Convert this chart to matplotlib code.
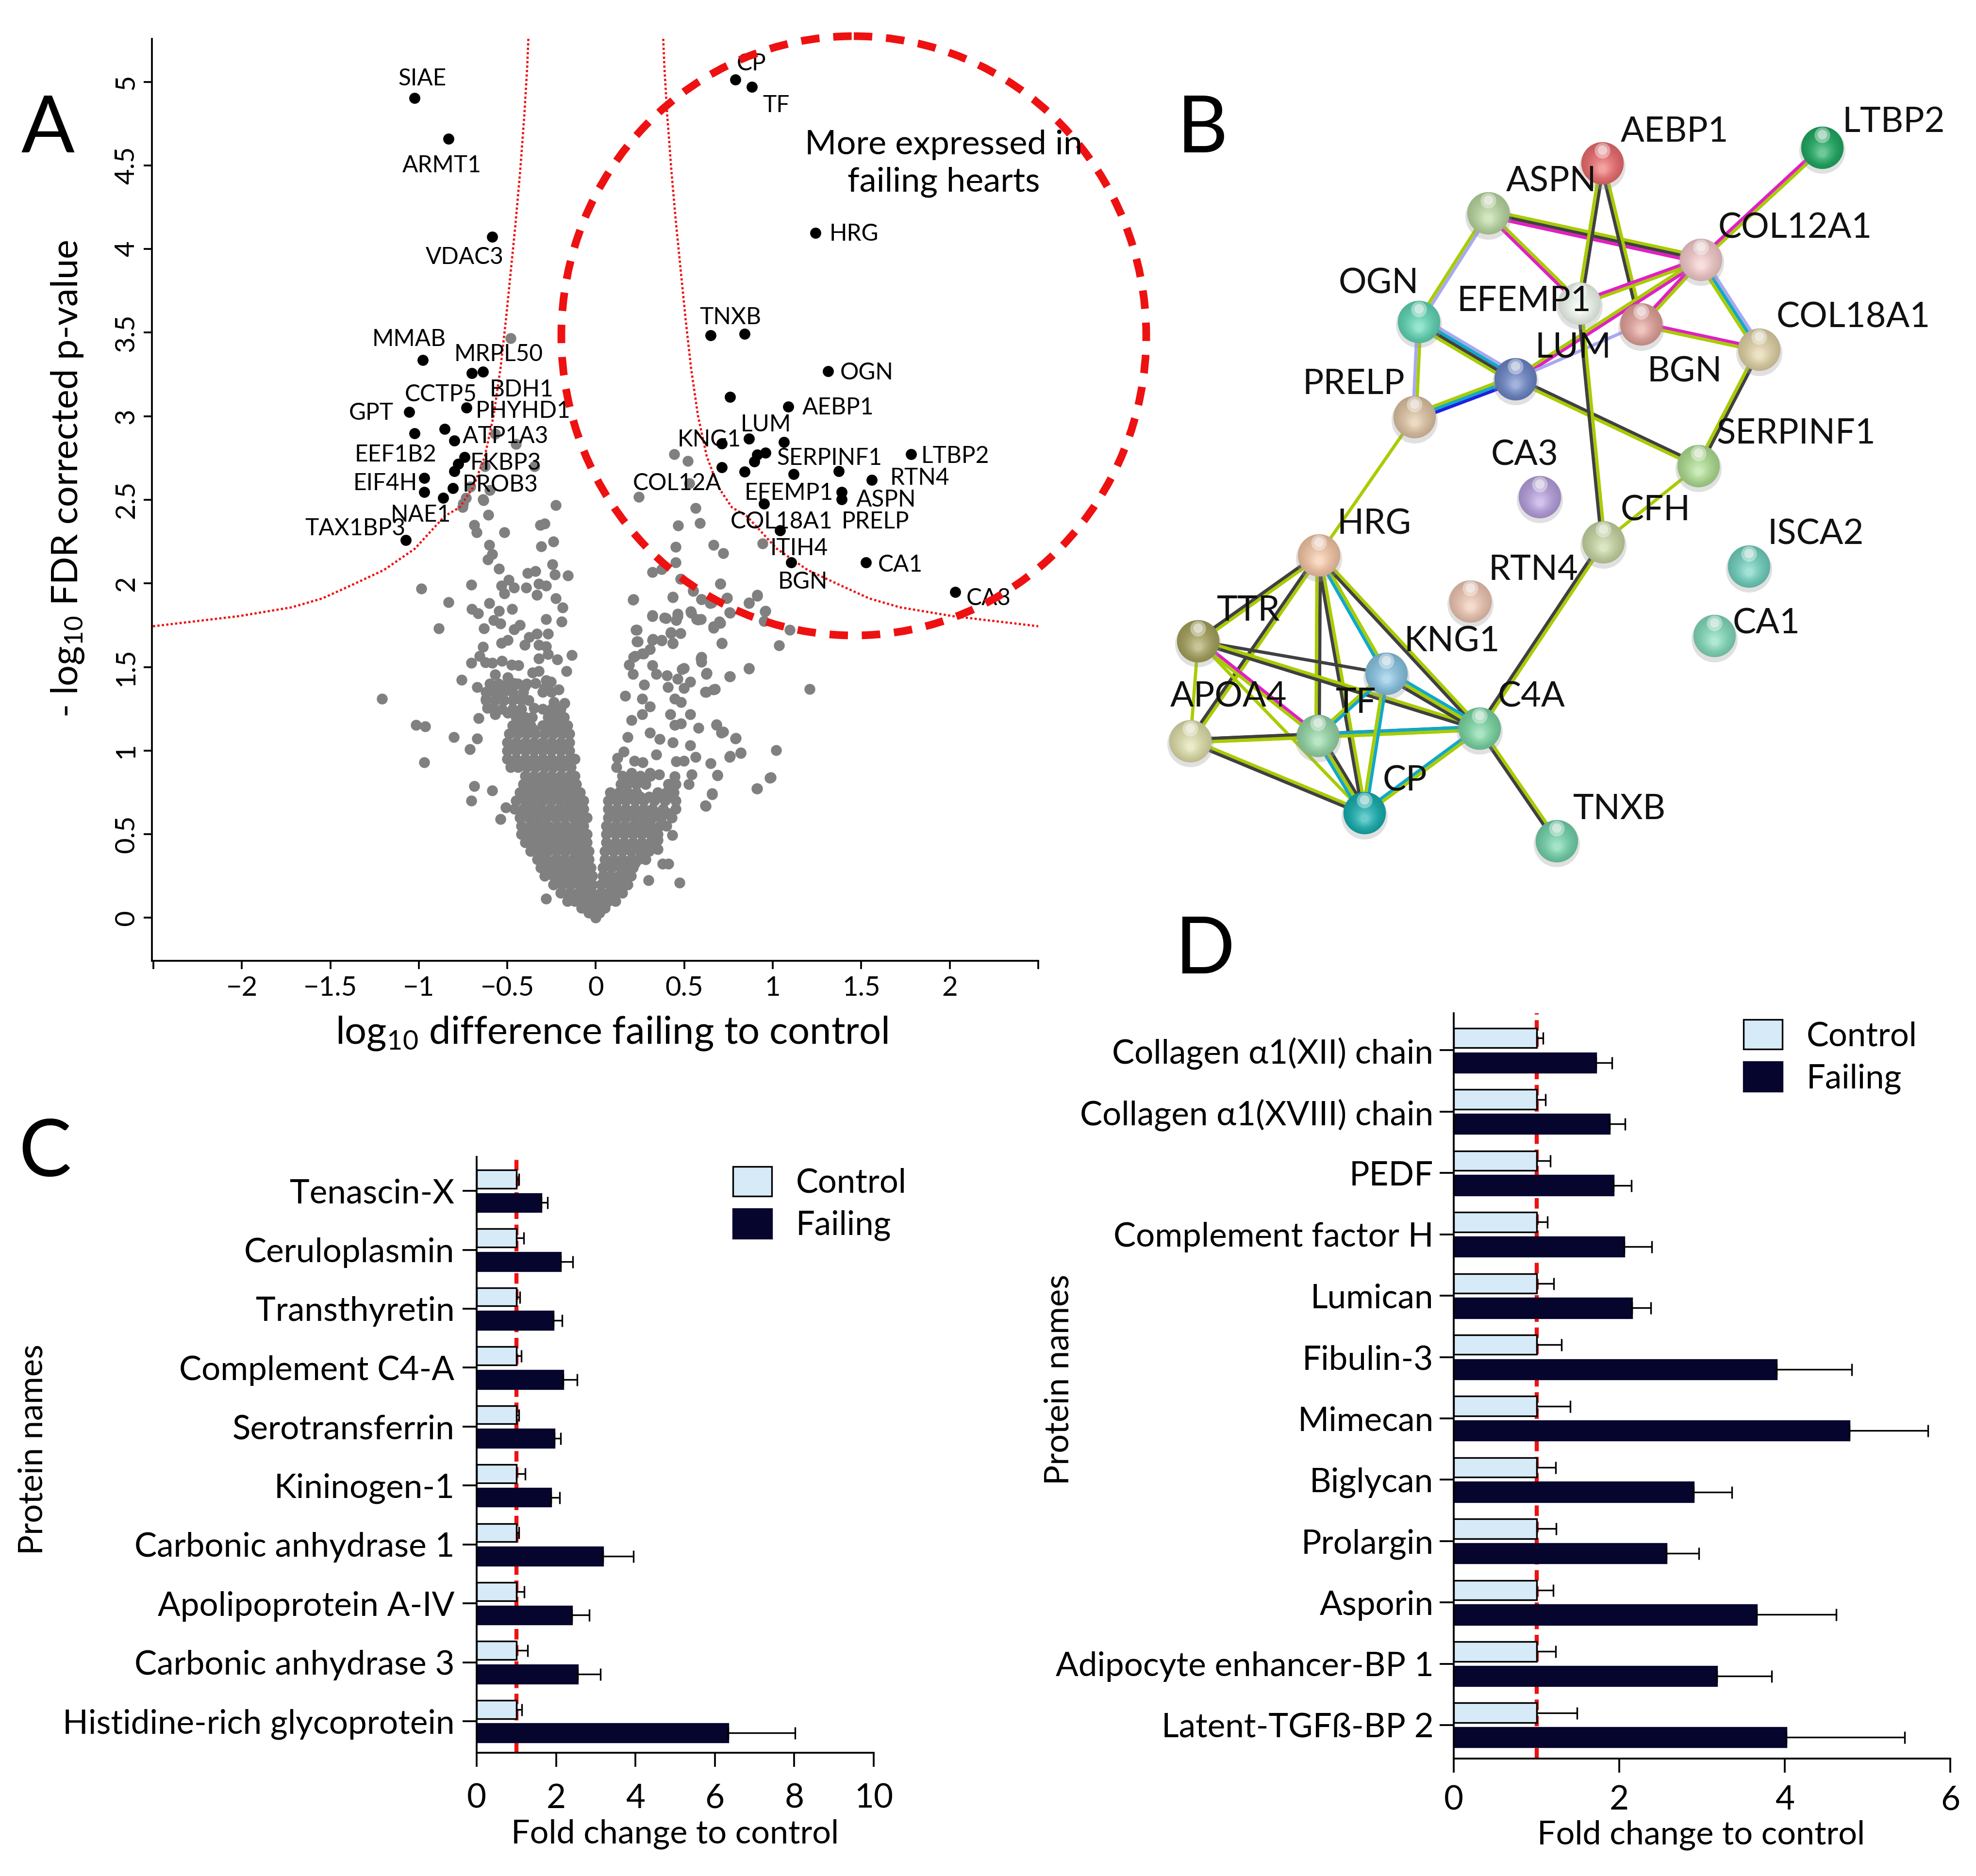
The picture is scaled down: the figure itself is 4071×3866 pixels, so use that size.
import numpy as np
import matplotlib
matplotlib.use('Agg')
import matplotlib.pyplot as plt
from matplotlib.colors import to_rgb
from matplotlib.patches import Ellipse, Patch

plt.rcParams['font.family'] = ['Lato', 'DejaVu Sans']
plt.rcParams['mathtext.fontset'] = 'custom'
plt.rcParams['mathtext.rm'] = 'Lato'
plt.rcParams['mathtext.default'] = 'rm'
plt.rcParams['axes.linewidth'] = 0.9

W, H = 4071, 3866

# ---------- panel A data ----------
# sparse grey proteins
grey_left = [
    (-1.208, 1.311), (-1.017, 1.152), (-.963, 1.144), (-.97, .93), (-.802, 1.08), (-.671, 1.072),
    (-.711, 1.009), (-.663, 1.193), (-.687, .789), (-.586, .763), (-.703, .70), (-.51, .659),
    (-.54, .589), (-.28, .115), (-.757, 1.422), (-.703, 1.524), (-.671, 1.38), (-.886, 1.73),
    (-.832, 1.889), (-.986, 1.969), (-.703, 1.991), (-.701, 1.846), (-.664, 1.822), (-.633, 1.731),
    (-.601, 1.881), (-.547, 1.835), (-.577, 1.781), (-.538, 1.759), (-.472, 1.848), (-.638, 1.62),
    (-.656, 1.565), (-.624, 1.528), (-.586, 1.526), (-.53, 1.537), (-.477, 1.513), (-.437, 1.509),
    (-.568, 1.454), (-.498, 1.439), (-.533, 1.643), (-.498, 1.661), (-.463, 1.726), (-.428, 1.75),
    (-.402, 1.633), (-.376, 1.68), (-.332, 1.698), (-.271, 1.698), (-.323, 1.633), (-.28, 1.624),
    (-.271, 1.578), (-.323, 1.55), (-.218, 1.546), (-.135, 1.572), (-.166, 1.476), (-.358, 1.467),
    (-.323, 1.476), (-.28, 1.42), (-.253, 1.411), (-.288, 1.374), (-.21, 1.365), (-.341, 1.402),
    (-.402, 1.383), (-.463, 1.402), (-.533, 1.383), (-.603, 1.356), (-.559, 1.328), (-.621, 1.309),
    (-.428, 1.309), (-.236, 1.291), (-.178, 1.285), (-.612, 1.254), (-.568, 1.217), (-.498, 1.226),
    (-.35, 1.254), (-.226, 2.467), (-.288, 2.359), (-.315, 2.35), (-.241, 2.25), (-.309, 2.222),
    (-.517, 2.307), (-.608, 2.411), (-.687, 2.35), (-.673, 2.305), (-.603, 2.231), (-.586, 2.176),
    (-.61, 2.143), (-.547, 2.087), (-.245, 2.115), (-.233, 2.054), (-.157, 2.046), (-.385, 2.063),
    (-.341, 2.072), (-.493, 2.022), (-.533, 1.985), (-.516, 1.939), (-.463, 1.976), (-.393, 1.976),
    (-.323, 1.998), (-.28, 1.985), (-.332, 1.93), (-.227, 1.911), (-.187, 1.856), (-.28, 1.785),
    (-.192, 1.772), (-.48, 3.465), (-.57, 2.895), (-.45, 2.834), (-.627, 2.7), (-.346, 2.7),
    (-.71, 2.577), (-.6, 2.557), (-.75, 2.476), (-.635, 2.496), (-.734, 2.513), (-.752, 2.457),
    (-.638, 2.504),
]
grey_right = [
    (.442, 2.773), (.519, 2.732), (.242, 2.516), (.527, 2.598), (.565, 2.451), (.588, 2.362),
    (.465, 2.345), (.45, 2.219), (.45, 2.125), (.665, 2.231), (.719, 2.182), (.319, 2.068),
    (.373, 2.085), (.48, 2.028), (.704, 1.999), (.942, 2.239), (.912, 1.926), (.742, 1.914),
    (.55, 1.954), (.654, 1.885), (.596, 1.906), (.435, 1.918), (.212, 1.906), (.319, 1.804),
    (.396, 1.792), (.462, 1.804), (.538, 1.824), (.577, 1.783), (.665, 1.743), (.704, 1.763),
    (.758, 1.824), (.865, 1.885), (.958, 1.836), (.95, 1.775), (1.096, 1.722), (1.035, 1.629),
    (.712, 1.641), (.48, 1.702), (.231, 1.722), (.231, 1.653), (.423, 1.702), (.319, 1.661),
    (.373, 1.661), (.435, 1.641), (.269, 1.58), (.212, 1.559), (1.208, 1.368), (.865, 1.49),
    (.758, 1.445), (.596, 1.559), (.596, 1.531), (.488, 1.486), (.623, 1.458), (.673, 1.368),
    (.619, 1.352), (1.019, 1.002), (.988, .839), (.912, .774), (.819, .989), (.788, 1.071),
    (.758, .969), (.719, 1.112), (.681, 1.152), (.688, .855), (.658, .745), (.619, .672),
    (.21, 1.902), (.227, 1.722), (.236, 1.652), (.32, 1.809), (.388, 1.794), (.463, 1.819),
    (.455, 1.781), (.434, 1.92), (.537, 1.833), (.568, 1.787), (.594, 1.787), (.664, 1.735),
    (.699, 1.772), (.757, 1.828), (.703, 1.998), (.551, 1.957), (.598, 1.906), (.647, 1.883),
    (.74, 1.911), (.865, 1.883), (.913, 1.93), (.956, 1.833), (.712, 1.643), (.425, 1.707),
    (.435, 1.643), (.372, 1.657), (.323, 1.667), (.306, 1.606), (.262, 1.581), (.222, 1.565),
    (.189, 1.513), (.21, 1.457), (.32, 1.509), (.341, 1.457), (.594, 1.55), (.498, 1.494),
    (.628, 1.463), (.757, 1.444), (.865, 1.494), (.664, 1.365), (.624, 1.35), (.402, 1.448),
    (.463, 1.43), (.533, 1.411), (.498, 1.374), (.407, 1.381), (.274, 1.393), (.262, 1.309),
    (.166, 1.328), (.306, 1.263), (.262, 1.217), (.203, 1.183), (.446, 1.309), (.481, 1.291),
    (.42, 1.217), (.446, 1.152), (.481, 1.161), (.533, 1.217), (.58, 1.137), (.682, 1.156),
    (.708, 1.106), (.79, 1.074), (.306, 1.106), (.362, 1.069), (.435, 1.05), (.533, 1.031),
    (.18, 1.081), (.157, .994), (.122, .957), (.117, .902), (.219, .939), (.266, .93),
    (.341, .976), (.455, .935), (.498, .939), (.565, .961), (.65, .924), (.757, .961),
    (.818, .985), (.687, .852), (.542, .856), (.524, .8), (.411, .8), (.446, .846),
    (.306, .865), (.358, .856), (.201, .865), (.656, .739), (.621, .67), (.909, .772),
    (.984, .837), (.297, .226), (.472, .211), (.376, .322), (.411, .322), (.432, .494),
    (.35, .467), (.35, .411),
]
# the solid bottom of the V, read row by row: (y, [x, x, ...])
dense_rows = [
    (.0, [0]),
    (.03, [-.04, -.01, .02]),
    (.06, [-.08, -.05, -.02, .02, .05]),
    (.1, [-.16, -.12, -.08, -.04, -.01, .03, .07, .11]),
    (.15, [-.2, -.15, -.1, -.06, -.02, .03, .07, .11, .15]),
    (.2, [-.24, -.19, -.14, -.09, -.05, -.02, .03, .08, .13, .18]),
    (.25, [-.29, -.24, -.19, -.14, -.09, -.05, -.02, .04, .08, .13, .18, .2]),
    (.3, [-.31, -.26, -.21, -.16, -.11, -.07, -.03, .04, .09, .14, .18, .21]),
    (.35, [-.33, -.28, -.23, -.18, -.13, -.08, -.04, .05, .1, .15, .2, .24, .28]),
    (.4, [-.37, -.32, -.27, -.22, -.17, -.12, -.08, -.04, .05, .1, .15, .2, .25, .3]),
    (.45, [-.4, -.35, -.3, -.25, -.2, -.15, -.1, -.05, .06, .11, .16, .21, .26, .31]),
    (.5, [-.42, -.37, -.32, -.27, -.22, -.17, -.12, -.07, -.05, .06, .11, .16, .21, .26, .31, .35]),
    (.55, [-.42, -.37, -.32, -.27, -.22, -.17, -.12, -.07, .06, .11, .16, .21, .26, .31, .36, .4]),
    (.6, [-.43, -.38, -.33, -.28, -.23, -.18, -.13, -.08, -.05, .07, .12, .17, .22, .27, .32, .37, .43]),
    (.65, [-.46, -.41, -.36, -.31, -.26, -.21, -.16, -.11, -.07, .07, .12, .17, .22, .27, .32, .38, .45]),
    (.7, [-.45, -.4, -.35, -.3, -.25, -.2, -.15, -.1, -.07, .07, .12, .17, .22, .27, .33, .39, .45]),
    (.75, [-.43, -.38, -.33, -.28, -.23, -.18, -.13, -.09, .08, .13, .18, .23, .35, .4, .44]),
    (.8, [-.41, -.36, -.31, -.26, -.21, -.16, -.11, .14, .18, .23, .28, .41, .45]),
    (.85, [-.4, -.35, -.3, -.25, -.2, -.15, -.12, .15, .2, .25, .31]),
    (.9, [-.48, -.44, -.39, -.34, -.29, -.24, -.19, -.14]),
    (.95, [-.5, -.45, -.4, -.35, -.3, -.25, -.2, -.15, -.12]),
    (1.0, [-.5, -.45, -.4, -.35, -.3, -.25, -.2, -.15]),
    (1.05, [-.5, -.45, -.4, -.35, -.3, -.25, -.2, -.15]),
    (1.1, [-.49, -.44, -.39, -.34, -.29, -.24, -.19, -.15]),
    (1.15, [-.47, -.42, -.37, -.3, -.25, -.2, -.16]),
    (1.2, [-.45, -.4, -.36, -.27, -.22, -.18]),
    # looser patches above the solid part
    (1.25, [-.58, -.53, -.47, -.42, -.3, -.25, -.2]),
    (1.3, [-.62, -.57, -.52, -.47, -.42, -.38]),
    (1.35, [-.62, -.57, -.52, -.47, -.41, -.3, -.25]),
    (1.4, [-.6, -.55, -.5, -.44, -.39]),
    # in-between rows that close the small gaps
    (.125, [-.14, -.1, -.03, .05, .09]),
    (.225, [-.21, -.17, -.12, -.07, .06, .11, .16]),
    (.325, [-.29, -.24, -.19, -.14, -.09, .07, .12, .17, .22]),
    (.425, [-.35, -.3, -.25, -.2, -.15, -.1, .08, .13, .18, .23, .28]),
    (.525, [-.4, -.35, -.3, -.25, -.2, -.15, -.1, .09, .14, .19, .24, .29, .34]),
    (.625, [-.41, -.36, -.31, -.26, -.21, -.16, -.11, .1, .15, .2, .25, .3, .35, .41]),
    (.725, [-.42, -.37, -.32, -.27, -.22, -.17, -.12, .1, .15, .2, .25, .3, .37, .42]),
    (.825, [-.38, -.33, -.28, -.23, -.18, -.14, .17, .22, .27]),
    (.925, [-.47, -.42, -.37, -.32, -.27, -.22, -.17]),
    (1.025, [-.47, -.42, -.37, -.32, -.27, -.22, -.17]),
    (1.125, [-.45, -.4, -.35, -.28, -.22, -.17]),
]
black_x = [-1.023, -.831, -.585, -.977, -.7, -.638, -.731, -1.054, -1.023, -.854, -.8, -.742, -.777, -.8,
           -.969, -.969, -.808, -.862, -1.073, .788, .881, 1.242, .65, .842, 1.312, .758, 1.088, .865,
           .712, 1.062, .958, .912, .896, .712, .842, 1.119, 1.373, 1.781, 1.558, 1.388, 1.388, .95,
           1.042, 1.104, 1.527, 2.031]
black_y = [4.902, 4.658, 4.072, 3.335, 3.257, 3.265, 3.05, 3.025, 2.899, 2.923, 2.854, 2.756, 2.716, 2.671,
           2.63, 2.545, 2.569, 2.512, 2.26, 5.012, 4.971, 4.096, 3.485, 3.493, 3.27, 3.115, 3.058, 2.866,
           2.838, 2.846, 2.781, 2.769, 2.728, 2.695, 2.667, 2.655, 2.671, 2.773, 2.618, 2.545, 2.504,
           2.476, 2.317, 2.125, 2.125, 1.95]
# protein label, centre of text in data units
volcano_labels = [
    ('SIAE', -.98, 5.02), ('ARMT1', -.87, 4.5), ('VDAC3', -.74, 3.95), ('MMAB', -1.055, 3.46),
    ('MRPL50', -.55, 3.37), ('BDH1', -.42, 3.16), ('CCTP5', -.875, 3.13), ('PHYHD1', -.41, 3.03),
    ('GPT', -1.27, 3.02), ('ATP1A3', -.51, 2.88), ('FKBP3', -.51, 2.72), ('EEF1B2', -1.13, 2.77),
    ('EIF4H', -1.19, 2.6), ('PROB3', -.54, 2.59), ('NAE1', -.99, 2.41), ('TAX1BP3', -1.36, 2.33),
    ('CP', .88, 5.11), ('TF', 1.02, 4.86), ('HRG', 1.46, 4.09), ('TNXB', .76, 3.59), ('OGN', 1.53, 3.26),
    ('AEBP1', 1.37, 3.05), ('LUM', .96, 2.95), ('KNG1', .64, 2.86), ('SERPINF1', 1.32, 2.75),
    ('COL12A', .46, 2.6), ('LTBP2', 2.03, 2.76), ('RTN4', 1.83, 2.63), ('ASPN', 1.64, 2.5),
    ('PRELP', 1.58, 2.37), ('EFEMP1', 1.09, 2.54), ('COL18A1', 1.05, 2.37), ('ITIH4', 1.15, 2.21),
    ('BGN', 1.17, 2.01), ('CA1', 1.72, 2.11), ('CA3', 2.22, 1.91),
]
curve_x = [-.381, -.388, -.404, -.427, -.454, -.481, -.508, -.538, -.577, -.627, -.692, -.769, -.854,
           -1.023, -1.196, -1.369, -1.546, -1.719, -2.019, -2.508]
curve_y = [5.257, 5.08, 4.796, 4.47, 4.145, 3.86, 3.575, 3.29, 3.005, 2.76, 2.577, 2.455, 2.402,
           2.207, 2.081, 1.995, 1.91, 1.857, 1.804, 1.743]

# ---------- panel B data (positions in a 1568 x 1568 frame) ----------
node_names = ['AEBP1', 'LTBP2', 'ASPN', 'COL12A1', 'OGN', 'EFEMP1', 'BGN', 'COL18A1', 'LUM', 'PRELP',
              'SERPINF1', 'CA3', 'CFH', 'HRG', 'ISCA2', 'RTN4', 'CA1', 'TTR', 'KNG1', 'C4A', 'APOA4',
              'TF', 'CP', 'TNXB']
node_x = [886, 1287, 678, 1066, 552, 845, 957, 1172, 728, 544, 1062, 772, 888, 369, 1154, 645, 1091,
          149, 492, 662, 135, 367, 452, 803]
node_y = [172, 142, 267, 355, 473, 438, 478, 526, 582, 654, 747, 806, 892, 917, 938, 1004, 1070,
          1080, 1142, 1246, 1270, 1260, 1407, 1460]
node_colors = ['#ee6e70', '#20ab62', '#bcd9a2', '#f6cccc', '#62d8b6', '#f2fbf2', '#e4a49c', '#e2d4a8',
               '#6e88c8', '#e0c5a4', '#b0e094', '#b8a2e0', '#c8d8a4', '#f6c8a8', '#72d2c0', '#f0c8b4',
               '#84dcbc', '#a8a460', '#8ac6e4', '#7cd8a4', '#e0e0ac', '#96d8a8', '#18b0b0', '#74d4ac']
node_label_x = [1018, 1418, 793, 1238, 478, 743, 1036, 1344, 833, 433, 1240, 745, 983, 470, 1275, 760,
                1186, 241, 612, 757, 205, 437, 526, 918]
node_label_y = [112, 94, 207, 295, 400, 434, 568, 465, 522, 592, 686, 727, 832, 858, 877, 945, 1047,
                1022, 1081, 1186, 1186, 1198, 1346, 1400]
GR, DK, MG, CY, LV, BL = '#a8cc00', '#404040', '#e020c0', '#10a8c8', '#a8a8f0', '#2020e0'
edges = [
    ('LTBP2', 'COL12A1', [GR, MG]), ('ASPN', 'COL12A1', [GR, DK, MG]), ('ASPN', 'OGN', [LV, GR]),
    ('ASPN', 'EFEMP1', [GR, MG]), ('AEBP1', 'EFEMP1', [DK, GR]), ('AEBP1', 'BGN', [GR, DK]),
    ('COL12A1', 'EFEMP1', [GR, MG]), ('COL12A1', 'BGN', [GR, MG]), ('COL12A1', 'LUM', [MG, GR]),
    ('COL12A1', 'COL18A1', [LV, CY, GR]), ('BGN', 'COL18A1', [MG, GR]), ('BGN', 'LUM', [LV]),
    ('OGN', 'LUM', [LV, CY, DK, GR]), ('OGN', 'PRELP', [GR, LV]), ('PRELP', 'LUM', [GR, CY, BL]),
    ('LUM', 'SERPINF1', [DK, GR]), ('EFEMP1', 'CFH', [GR, DK]), ('COL18A1', 'SERPINF1', [DK, GR]),
    ('SERPINF1', 'CFH', [GR]), ('PRELP', 'HRG', [GR]), ('CFH', 'C4A', [GR, DK]), ('HRG', 'TTR', [GR, DK]),
    ('HRG', 'APOA4', [GR, DK]), ('HRG', 'TF', [DK, GR]), ('HRG', 'CP', [GR, DK]), ('HRG', 'KNG1', [GR, CY]),
    ('HRG', 'C4A', [GR, DK]), ('TTR', 'KNG1', [DK]), ('TTR', 'C4A', [GR, DK]), ('TTR', 'TF', [MG, GR]),
    ('TTR', 'CP', [GR]), ('TTR', 'APOA4', [GR]), ('APOA4', 'TF', [DK, GR]), ('APOA4', 'C4A', [DK, GR]),
    ('APOA4', 'CP', [GR, DK]), ('TF', 'C4A', [CY, GR]), ('TF', 'CP', [DK, GR, CY]), ('TF', 'KNG1', [GR, CY]),
    ('KNG1', 'C4A', [CY, GR, DK]), ('KNG1', 'CP', [CY, GR]), ('CP', 'C4A', [CY, GR]), ('C4A', 'TNXB', [GR, DK]),
]

# ---------- panels C and D data ----------
c_names = ['Tenascin-X', 'Ceruloplasmin', 'Transthyretin', 'Complement C4-A', 'Serotransferrin',
           'Kininogen-1', 'Carbonic anhydrase 1', 'Apolipoprotein A-IV', 'Carbonic anhydrase 3',
           'Histidine-rich glycoprotein']
c_failing = [1.62, 2.12, 1.93, 2.17, 1.95, 1.87, 3.18, 2.40, 2.54, 6.33]
c_failing_top = [1.78, 2.42, 2.15, 2.53, 2.11, 2.09, 3.95, 2.84, 3.12, 8.02]
c_control_top = [1.06, 1.19, 1.09, 1.12, 1.06, 1.22, 1.06, 1.20, 1.28, 1.14]

d_names = ['Collagen α1(XII) chain', 'Collagen α1(XVIII) chain', 'PEDF', 'Complement factor H', 'Lumican',
           'Fibulin-3', 'Mimecan', 'Biglycan', 'Prolargin', 'Asporin', 'Adipocyte enhancer-BP 1',
           'Latent-TGFß-BP 2']
d_failing = [1.717, 1.88, 1.93, 2.06, 2.15, 3.90, 4.78, 2.90, 2.57, 3.66, 3.18, 4.02]
d_failing_top = [1.91, 2.07, 2.145, 2.395, 2.38, 4.81, 5.73, 3.36, 2.96, 4.62, 3.84, 5.45]
d_control_top = [1.08, 1.11, 1.17, 1.13, 1.21, 1.30, 1.41, 1.23, 1.24, 1.20, 1.23, 1.49]


def axes_px(fig, left, top, right, bottom, **kw):
    return fig.add_axes([left / W, 1 - bottom / H, (right - left) / W, (bottom - top) / H], **kw)


def bar_panel(ax, names, failing, failing_top, control_top, xmax, xstep, ylim, off, bar_h, leg_anchor, ypad, xpad):
    ypos = np.arange(len(names))
    control = np.ones(len(names))
    ax.axvline(1, color='#ee1111', lw=2.0, ls=(0, (2.6, 1.4)), zorder=1)
    ax.barh(ypos - off, control, height=bar_h, color='#d6eaf8', edgecolor='black', lw=0.8, zorder=2)
    ax.barh(ypos + off, failing, height=bar_h, color='#05052e', edgecolor='#05052e', lw=0.8, zorder=2)
    ax.errorbar(control, ypos - off, xerr=[np.zeros(len(names)), np.array(control_top) - 1], fmt='none',
                ecolor='black', elinewidth=0.8, capsize=3, capthick=0.8, zorder=3)
    ax.errorbar(failing, ypos + off, xerr=[np.zeros(len(names)), np.array(failing_top) - np.array(failing)],
                fmt='none', ecolor='black', elinewidth=0.8, capsize=3, capthick=0.8, zorder=3)
    ax.set_xlim(0, xmax)
    ax.set_ylim(*ylim)
    ax.set_xticks(np.arange(0, xmax + 1, xstep))
    ax.set_yticks(ypos)
    ax.set_yticklabels(names)
    ax.tick_params(axis='y', length=7, width=0.9, labelsize=16.6, pad=ypad)
    ax.tick_params(axis='x', length=7, width=0.9, labelsize=16.6, pad=xpad)
    ax.spines['top'].set_visible(False)
    ax.spines['right'].set_visible(False)
    handles = [Patch(facecolor='#d6eaf8', edgecolor='black', lw=0.8, label='Control'),
               Patch(facecolor='#05052e', edgecolor='#05052e', lw=0.8, label='Failing')]
    ax.legend(handles=handles, loc='upper left', bbox_to_anchor=leg_anchor, frameon=False, fontsize=16.5,
              handlelength=1.17, handleheight=1.0, handletextpad=0.72, labelspacing=0.3, borderpad=0)


fig = plt.figure(figsize=(W / 300, H / 300), dpi=300, facecolor='white')

# ---------- A: volcano ----------
ax = axes_px(fig, 313, 80, 2139, 1980)
grey_pts = list(grey_left) + list(grey_right)
for row_y, row_xs in dense_rows:
    grey_pts += [(x, row_y) for x in row_xs]
gx, gy = zip(*grey_pts)
ax.scatter(gx, gy, s=29, color='#808080', lw=0, zorder=2)
ax.plot(curve_x, curve_y, color='#ee1111', lw=1.1, ls=(0, (1, 1)), zorder=3)
ax.plot(-np.array(curve_x), curve_y, color='#ee1111', lw=1.1, ls=(0, (1, 1)), zorder=3)
ax.scatter(black_x, black_y, s=30, color='black', lw=0, zorder=4)
for name, lx, ly in volcano_labels:
    ax.text(lx, ly, name, fontsize=11.5, ha='center', va='center', zorder=6)
ax.set_xlim(-2.508, 2.5)
ax.set_ylim(-.257, 5.257)
ax.set_xticks(np.arange(-2.5, 2.51, .5))
ax.set_xticklabels(['', '\u22122', '\u22121.5', '\u22121', '\u22120.5', '0', '0.5', '1', '1.5', '2', ''])
ax.set_yticks(np.arange(0, 5.01, .5))
ax.set_yticklabels(['0', '0.5', '1', '1.5', '2', '2.5', '3', '3.5', '4', '4.5', '5'], rotation=90, va='center')
ax.tick_params(axis='x', length=4, width=0.9, labelsize=13.5)
ax.tick_params(axis='y', length=4, width=0.9, labelsize=13.5, pad=2.5)
ax.spines['top'].set_visible(False)
ax.spines['right'].set_visible(False)

# ---------- B: interaction network ----------
axb = axes_px(fig, 2300, 150, 4071, 1850)
axb.set_xlim(0, 1568)
axb.set_ylim(1568, 0)
axb.axis('off')
pos = {n: (x, y) for n, x, y in zip(node_names, node_x, node_y)}
for a, b, cols in edges:
    xa, ya = pos[a]
    xb, yb = pos[b]
    d = np.hypot(xb - xa, yb - ya)
    nx_, ny_ = -(yb - ya) / d, (xb - xa) / d
    for i, c in enumerate(cols):
        o = (i - (len(cols) - 1) / 2) * 6.0
        axb.plot([xa + nx_ * o, xb + nx_ * o], [ya + ny_ * o, yb + ny_ * o], color=c, lw=1.6,
                 solid_capstyle='butt', zorder=2)
for x, y, col in zip(node_x, node_y, node_colors):
    rgb = np.array(to_rgb(col))
    axb.scatter([x], [y + 6], s=520, color='#999999', alpha=0.3, lw=0, zorder=3)
    for t in np.linspace(0, 1, 14):
        shade = rgb * (0.84 + 0.16 * t) + (1 - rgb) * 0.35 * t * t
        axb.scatter([x], [y + 10 * t], s=440 * (1 - 0.82 * t) ** 2, color=np.clip(shade, 0, 1), lw=0, zorder=4)
    axb.scatter([x], [y - 24], s=60, color='white', alpha=0.4, lw=0, zorder=5)
    axb.scatter([x], [y - 25], s=22, color='white', alpha=0.45, lw=0, zorder=5)
for n, lx, ly in zip(node_names, node_label_x, node_label_y):
    axb.text(lx, ly, n, fontsize=17.3, ha='center', va='center', color='#111111', zorder=6)

# ---------- C and D: bars ----------
axc = axes_px(fig, 982, 2384, 1800, 3612)
bar_panel(axc, c_names, c_failing, c_failing_top, c_control_top, 10, 2, (9.535, -.577), .2, .31, (.603, 1.012), 4, 8)
axd = axes_px(fig, 2995, 2088, 4018, 3624)
bar_panel(axd, d_names, d_failing, d_failing_top, d_control_top, 6, 2, (11.546, -.605), .2, .32, (.55, 1.014), 3, 6)

# ---------- overlay for text placed on the whole figure ----------
ov = fig.add_axes([0, 0, 1, 1], zorder=10)
ov.set_xlim(0, W)
ov.set_ylim(H, 0)
ov.axis('off')
ov.patch.set_alpha(0)
ov.add_patch(Ellipse((1759, 692), 1205, 1235, fill=False, edgecolor='#ee1111', lw=3.8, ls=(0, (2.4, 1.8))))
ov.text(1944, 337, 'More expressed in\nfailing hearts', fontsize=16.9, ha='center', va='center', linespacing=1.25)
ov.text(1260, 2130, r'log$_{10}$ difference failing to control', fontsize=19.1, ha='center', va='center')
ov.text(140, 987, r'- log$_{10}$ FDR corrected p-value', fontsize=18.2, ha='center', va='center', rotation=90)
ov.text(1391, 3780, 'Fold change to control', fontsize=16.4, ha='center', va='center')
ov.text(68, 2987, 'Protein names', fontsize=16.5, ha='center', va='center', rotation=90)
ov.text(3505, 3782, 'Fold change to control', fontsize=16.4, ha='center', va='center')
ov.text(2182, 2843, 'Protein names', fontsize=16.5, ha='center', va='center', rotation=90)
for letter, lx, ly in [('A', 99, 268), ('B', 2477, 268), ('C', 93, 2378), ('D', 2482, 1960)]:
    ov.text(lx, ly, letter, fontsize=39, ha='center', va='center')

fig.savefig('out.png', dpi=300)
